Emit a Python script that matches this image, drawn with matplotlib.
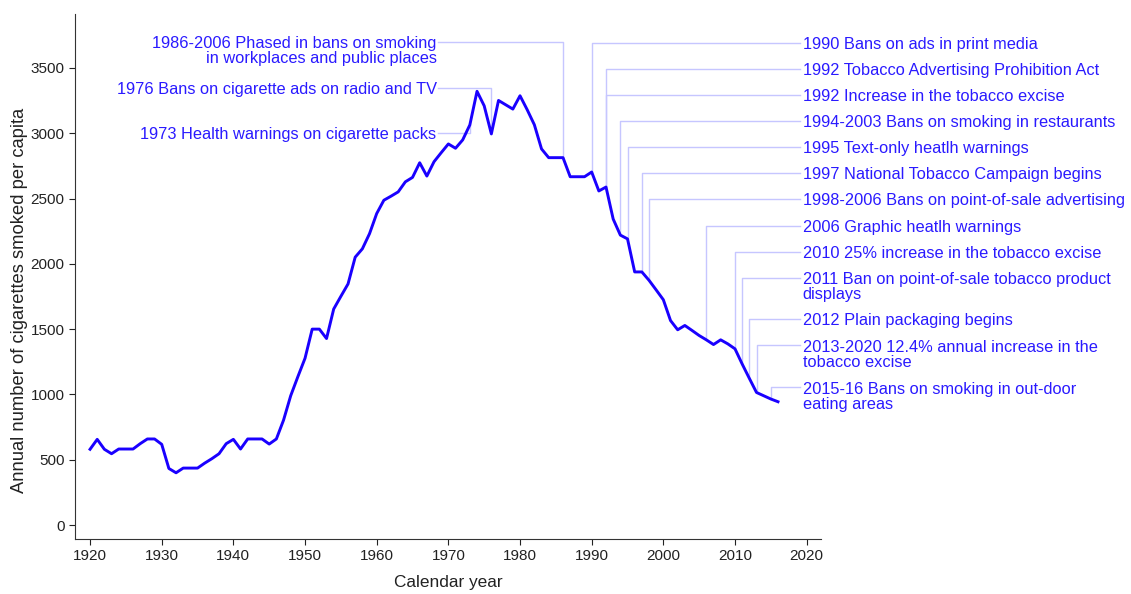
import numpy as np
import matplotlib.pyplot as plt

plt.rcParams['font.family'] = ['Liberation Sans', 'DejaVu Sans']

years = np.arange(1920, 2017)
consumption = [
    580, 656, 580, 546, 582, 582, 582, 623, 659, 659,   # 1920s
    618, 433, 400, 436, 436, 436, 474, 508, 546, 623,   # 1930s
    656, 582, 659, 659, 659, 620, 659, 803, 990, 1136,  # 1940s
    1277, 1500, 1500, 1428, 1654, 1751, 1846, 2051, 2115, 2231,  # 1950s
    2385, 2487, 2518, 2551, 2628, 2662, 2774, 2672, 2782, 2851,  # 1960s
    2918, 2885, 2949, 3064, 3321, 3210, 2995, 3251, 3218, 3185,  # 1970s
    3287, 3180, 3065, 2880, 2813, 2813, 2813, 2667, 2667, 2667,  # 1980s
    2703, 2558, 2588, 2343, 2220, 2191, 1938, 1938, 1874, 1800,  # 1990s
    1725, 1566, 1495, 1528, 1490, 1451, 1418, 1382, 1418, 1387,  # 2000s
    1349, 1233, 1123, 1015, 990, 965, 944,                       # 2010s
]

# events annotated on the left of the peak
left_years = [1986, 1976, 1973]
left_labels = [
    "1986-2006 Phased in bans on smoking\nin workplaces and public places",
    "1976 Bans on cigarette ads on radio and TV",
    "1973 Health warnings on cigarette packs",
]
left_label_y = [3700, 3350, 3000]

# events annotated on the right
right_years = [1990, 1992, 1992, 1994, 1995, 1997, 1998, 2006, 2010, 2011, 2012, 2013, 2015]
right_labels = [
    "1990 Bans on ads in print media",
    "1992 Tobacco Advertising Prohibition Act",
    "1992 Increase in the tobacco excise",
    "1994-2003 Bans on smoking in restaurants",
    "1995 Text-only heatlh warnings",
    "1997 National Tobacco Campaign begins",
    "1998-2006 Bans on point-of-sale advertising",
    "2006 Graphic heatlh warnings",
    "2010 25% increase in the tobacco excise",
    "2011 Ban on point-of-sale tobacco product\ndisplays",
    "2012 Plain packaging begins",
    "2013-2020 12.4% annual increase in the\ntobacco excise",
    "2015-16 Bans on smoking in out-door\neating areas",
]
right_label_y = [3693, 3492, 3293, 3094, 2893, 2694, 2495, 2293, 2094, 1895, 1578, 1375, 1055]

line_col = "#1a00ff"
text_col = "#2a1aff"
conn_col = "#c6c6ff"
ann_size = 11.8

fig = plt.figure(figsize=(11.31, 5.94), dpi=100)
ax = fig.add_axes([75 / 1131, (594 - 539) / 594, (821 - 75) / 1131, (539 - 14) / 594])

x0, x1 = 1917.9, 2022
y0, y1 = -107, 3913
px_per_year = 746 / (x1 - x0)
units_per_px = (y1 - y0) / 525
value_at = dict(zip(years, consumption))


def text_y(ly, lab):
    # multi-line labels are centred as a block; shift so the first line sits on the connector
    n = lab.count("\n")
    return ly - n * 7.8 * units_per_px


x_left = x0 + (438 - 75) / px_per_year
for yr, lab, ly in zip(left_years, left_labels, left_label_y):
    ax.plot([x_left, yr, yr], [ly, ly, value_at[yr]],
            color=conn_col, lw=1, zorder=1, clip_on=False)
    ax.text(x_left - 0.2, text_y(ly, lab), lab, ha="right", va="center_baseline",
            color=text_col, fontsize=ann_size, linespacing=1.0,
            multialignment="right")

x_right = x0 + (800 - 75) / px_per_year
for yr, lab, ly in zip(right_years, right_labels, right_label_y):
    ax.plot([x_right, yr, yr], [ly, ly, value_at[yr]],
            color=conn_col, lw=1, zorder=1, clip_on=False)
    ax.text(x_right + 0.4, text_y(ly, lab), lab, ha="left", va="center_baseline",
            color=text_col, fontsize=ann_size, linespacing=1.0)

ax.plot(years, consumption, color=line_col, lw=2.1, zorder=3)

ax.set_xlim(x0, x1)
ax.set_ylim(y0, y1)
ax.set_xticks(np.arange(1920, 2021, 10))
ax.set_yticks(np.arange(0, 3501, 500))
ax.tick_params(direction="out", length=4, labelsize=11, colors="#222222")
for side in ["top", "right"]:
    ax.spines[side].set_visible(False)
for side in ["left", "bottom"]:
    ax.spines[side].set_color("#333333")
ax.set_xlabel("Calendar year", fontsize=12.4, color="#222222")
ax.xaxis.set_label_coords(0.5, -0.068)
ax.set_ylabel("Annual number of cigarettes smoked per capita", fontsize=13.2,
              color="#222222")
ax.yaxis.set_label_coords(-0.063, 0.455)

fig.savefig("out.png", dpi=100)
